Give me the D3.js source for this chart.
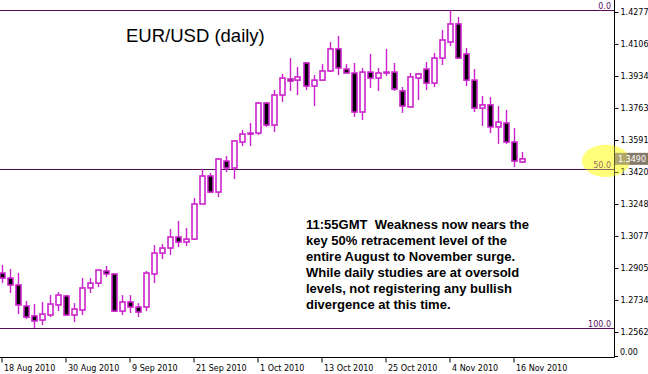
<!DOCTYPE html>
<html><head><meta charset="utf-8">
<script src="https://cdn.jsdelivr.net/npm/d3@7"></script>
<style>html,body{margin:0;padding:0;background:#fff;}svg{display:block;}</style>
</head><body>
<script>
// ---- data ----
const opens  = [1.2878,1.2851,1.2814,1.2701,1.2648,1.2626,1.2653,1.2707,1.2755,1.2653,1.2680,1.2798,1.2824,1.2889,1.2873,1.2674,1.2723,1.2696,1.2696,1.2873,1.2985,1.3012,1.3071,1.3044,1.3060,1.3248,1.3398,1.3312,1.3478,1.3441,1.3580,1.3628,1.3628,1.3789,1.3671,1.3832,1.3918,1.3912,1.4004,1.3880,1.3912,1.3961,1.4079,1.3971,1.3950,1.3741,1.3955,1.3923,1.3955,1.3955,1.3854,1.3768,1.3923,1.3971,1.3896,1.4030,1.4116,1.4213,1.4052,1.3912,1.3762,1.3779,1.3661,1.3682,1.3580,1.3473];
const highs  = [1.2921,1.2900,1.2878,1.2728,1.2712,1.2723,1.2760,1.2776,1.2760,1.2717,1.2851,1.2851,1.2894,1.2916,1.2873,1.2760,1.2760,1.2717,1.2889,1.3028,1.3034,1.3114,1.3157,1.3119,1.3280,1.3436,1.3414,1.3494,1.3505,1.3586,1.3645,1.3682,1.3795,1.3795,1.3859,1.3945,1.4030,1.3982,1.4004,1.3939,1.3998,1.4116,1.4148,1.3998,1.4004,1.3977,1.4052,1.3977,1.4079,1.4004,1.3875,1.3950,1.3950,1.4009,1.4057,1.4181,1.4288,1.4250,1.4084,1.3971,1.3827,1.3821,1.3773,1.3752,1.3655,1.3527];
const lows   = [1.2824,1.2771,1.2658,1.2632,1.2583,1.2599,1.2642,1.2674,1.2648,1.2615,1.2653,1.2771,1.2803,1.2857,1.2669,1.2653,1.2664,1.2642,1.2674,1.2824,1.2953,1.2975,1.3017,1.3023,1.3055,1.3248,1.3307,1.3285,1.3419,1.3382,1.3559,1.3559,1.3618,1.3661,1.3634,1.3795,1.3854,1.3832,1.3859,1.3773,1.3912,1.3955,1.3939,1.3950,1.3714,1.3698,1.3870,1.3854,1.3934,1.3854,1.3736,1.3768,1.3805,1.3859,1.3875,1.3993,1.4095,1.4030,1.3880,1.3741,1.3666,1.3628,1.3570,1.3570,1.3446,1.3468];
const closes = [1.2851,1.2814,1.2707,1.2642,1.2621,1.2658,1.2712,1.2760,1.2653,1.2685,1.2798,1.2824,1.2894,1.2873,1.2674,1.2723,1.2696,1.2669,1.2878,1.2985,1.3012,1.3071,1.3044,1.3060,1.3248,1.3398,1.3312,1.3489,1.3441,1.3586,1.3623,1.3623,1.3789,1.3671,1.3832,1.3923,1.3907,1.3929,1.3880,1.3912,1.3961,1.4079,1.3977,1.3950,1.3741,1.3955,1.3923,1.3950,1.3950,1.3864,1.3773,1.3929,1.3945,1.3896,1.4030,1.4127,1.4213,1.4030,1.3912,1.3762,1.3779,1.3661,1.3687,1.3580,1.3478,1.3490];
const priceTicks = [1.4277,1.4106,1.3934,1.3763,1.3591,1.3420,1.3248,1.3077,1.2905,1.2734,1.2562];
const dateTickIndex = [0,8,16,24,32,40,48,56,64];
const dateTickLabels = ["18 Aug 2010","30 Aug 2010","9 Sep 2010","21 Sep 2010","1 Oct 2010","13 Oct 2010","25 Oct 2010","4 Nov 2010","16 Nov 2010"];
const fiboLevels = [0, 50, 100];
const currentPrice = 1.3490;
const title = "EUR/USD (daily)";
const note = ["11:55GMT\u00a0\u00a0Weakness now nears the","key 50% retracement level of the","entire August to November surge.","While daily studies are at oversold","levels, not registering any bullish","divergence at this time."];

// ---- layout ----
const W = 648, H = 374, axisX = 614, axisY = 357;
const svg = d3.select("body").append("svg").attr("width", W).attr("height", H);
const x = d3.scaleLinear().domain([0, opens.length - 1]).range([1.5, 521.5]);
const y = d3.scaleLinear().domain([1.2562, 1.4277]).range([332, 12]);
const font = "'Liberation Sans', Arial, sans-serif";
const axFont = "'DejaVu Sans', Verdana, sans-serif";
const magenta = "#cc22cc", fibColor = "#560f56";

const bars = opens.map((o, i) => ({i, o, h: highs[i], l: lows[i], c: closes[i]}));

// title
svg.append("text").attr("x", 126).attr("y", 42).attr("font-family", font)
  .attr("font-size", 18.5).attr("fill", "#000").text(title);

const cy = y(currentPrice);
// highlight ellipse (behind labels)
svg.append("ellipse").attr("cx", 606).attr("cy", cy + 2).attr("rx", 24).attr("ry", 16)
  .attr("fill", "#ffff70").attr("opacity", 0.9);

// fibo lines
const fHigh = d3.max(highs), fLow = d3.min(lows);
fiboLevels.forEach(lv => {
  const p = fHigh - (fHigh - fLow) * lv / 100;
  const yy = Math.round(y(p)) + 0.5;
  svg.append("line").attr("x1", 0).attr("x2", axisX).attr("y1", yy).attr("y2", yy)
    .attr("stroke", fibColor).attr("stroke-width", 1);
  svg.append("text").attr("x", 611).attr("y", yy - 2).attr("text-anchor", "end")
    .attr("font-family", axFont).attr("font-size", 8).attr("fill", "#5a1060").text(lv.toFixed(1));
});

// candles
const g = svg.append("g");
g.selectAll("line.wick").data(bars).join("line").attr("class", "wick")
  .attr("x1", d => Math.round(x(d.i)) + 0.5).attr("x2", d => Math.round(x(d.i)) + 0.5)
  .attr("y1", d => y(d.h)).attr("y2", d => y(d.l))
  .attr("stroke", magenta).attr("stroke-width", 1.4);
g.selectAll("rect.body").data(bars).join("rect").attr("class", "body")
  .attr("x", d => Math.round(x(d.i)) - 2)
  .attr("width", 5)
  .attr("y", d => y(Math.max(d.o, d.c)))
  .attr("height", d => Math.max(1, Math.abs(y(d.o) - y(d.c))))
  .attr("fill", d => d.c >= d.o ? "#fff" : "#000")
  .attr("stroke", magenta).attr("stroke-width", 1.6);

// note text
const nt = svg.append("text").attr("font-family", font).attr("font-size", 13)
  .attr("font-weight", "bold").attr("fill", "#000");
note.forEach((t, k) => nt.append("tspan").attr("x", 306).attr("y", 229 + 16 * k).text(t));

// axes
svg.append("line").attr("x1", axisX + 0.5).attr("x2", axisX + 0.5).attr("y1", 0).attr("y2", axisY + 0.5)
  .attr("stroke", "#000");
svg.append("line").attr("x1", 0).attr("x2", axisX + 0.5).attr("y1", axisY + 0.5).attr("y2", axisY + 0.5)
  .attr("stroke", "#000");

const yAxis = d3.axisRight(y).tickValues(priceTicks).tickSize(4).tickPadding(2)
  .tickFormat(d3.format(".4f"));
const ya = svg.append("g").attr("transform", `translate(${axisX + 0.5},0)`).call(yAxis);
ya.select(".domain").remove();
ya.selectAll("text").attr("font-family", axFont).attr("font-size", 8).attr("fill", "#000");
ya.selectAll("line").attr("stroke", "#000");
svg.append("line").attr("x1", axisX).attr("x2", axisX + 4).attr("y1", axisY - 0.5).attr("y2", axisY - 0.5).attr("stroke", "#000");
svg.append("text").attr("x", 620).attr("y", 355).attr("font-family", axFont).attr("font-size", 8).text("0.00");

const xAxis = d3.axisBottom(d3.scaleLinear().domain(x.domain()).range(x.range()))
  .tickValues(dateTickIndex).tickSize(5).tickFormat((d, k) => dateTickLabels[k]);
const xa = svg.append("g").attr("transform", `translate(0,${axisY + 0.5})`).call(xAxis);
xa.select(".domain").remove();
xa.selectAll(".tick line").attr("stroke", "#000");
xa.selectAll("text").attr("font-family", axFont).attr("font-size", 8).attr("fill", "#000")
  .attr("text-anchor", "start").attr("dx", 2).attr("dy", 0).attr("y", 13);

// current price label
svg.append("rect").attr("x", 615).attr("y", cy - 6).attr("width", 33).attr("height", 12)
  .attr("fill", "#857a68");
svg.append("ellipse").attr("cx", 606).attr("cy", cy + 2).attr("rx", 24).attr("ry", 16)
  .attr("fill", "#ffff70").attr("opacity", 0.35);
svg.append("text").attr("x", 618).attr("y", cy + 3).attr("font-family", axFont).attr("font-size", 8)
  .attr("fill", "#fff").text(currentPrice.toFixed(4));
</script>
</body></html>
